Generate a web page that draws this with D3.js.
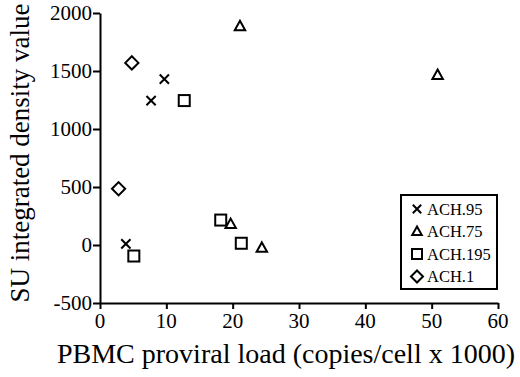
<!DOCTYPE html>
<html>
<head>
<meta charset="utf-8">
<script src="https://cdn.jsdelivr.net/npm/d3@7"></script>
<style>
  body { margin: 0; background: #fff; }
  text { font-family: "Liberation Serif", "Times New Roman", serif; fill: #000; }
</style>
</head>
<body>
<div id="chart"></div>
<script>
// series names and symbol kinds
const seriesNames = ['ACH.95', 'ACH.75', 'ACH.195', 'ACH.1'];
const seriesSymbols = ['cross', 'triangle', 'square', 'diamond'];

// points per series: [proviral load, SU density]
const ach95 = [[3.9, 10], [7.7, 1245], [9.7, 1430]];
const ach75 = [[21.1, 1885], [50.9, 1465], [19.7, 180], [24.4, -25]];
const ach195 = [[12.7, 1245], [18.2, 215], [21.3, 15], [5.1, -95]];
const ach1 = [[4.8, 1570], [2.8, 485]];

const xTicks = [0, 10, 20, 30, 40, 50, 60];
const yTicks = [-500, 0, 500, 1000, 1500, 2000];

const allSeries = [ach95, ach75, ach195, ach1];

const width = 520, height = 377;
const margin = { top: 13, left: 100, right: 22, bottom: 74 };

const svg = d3.select('#chart')
  .append('svg')
  .attr('width', width)
  .attr('height', height);

const x = d3.scaleLinear()
  .domain([0, 60])
  .range([margin.left, width - margin.right]);

const y = d3.scaleLinear()
  .domain([-500, 2000])
  .range([height - margin.bottom, margin.top]);

// axes: lines from d3, labels written below by hand
const xAxis = svg.append('g')
  .attr('transform', `translate(0, ${y(-500)})`)
  .call(d3.axisBottom(x).tickValues(xTicks).tickFormat('').tickSize(6).tickSizeOuter(0));

const yAxis = svg.append('g')
  .attr('transform', `translate(${x(0)}, 0)`)
  .call(d3.axisLeft(y).tickValues(yTicks).tickFormat('').tickSize(7).tickSizeOuter(0));

[xAxis, yAxis].forEach(a => {
  a.select('.domain').attr('stroke', '#000').attr('stroke-width', 2);
  a.selectAll('.tick line').attr('stroke', '#000').attr('stroke-width', 2);
  a.selectAll('.tick text').remove();
});

svg.append('g').selectAll('text')
  .data(xTicks)
  .join('text')
  .attr('x', d => x(d))
  .attr('y', y(-500) + 25)
  .attr('text-anchor', 'middle')
  .attr('font-family', 'Liberation Serif')
  .attr('font-size', 21)
  .text(d => String(d));

svg.append('g').selectAll('text')
  .data(yTicks)
  .join('text')
  .attr('x', x(0) - 8)
  .attr('y', d => y(d) + 7)
  .attr('text-anchor', 'end')
  .attr('font-family', 'Liberation Serif')
  .attr('font-size', 21)
  .text(d => String(d));

// axis titles
svg.append('text')
  .attr('x', 286)
  .attr('y', 363)
  .attr('text-anchor', 'middle')
  .style('font-size', '28px')
  .text('PBMC proviral load (copies/cell x 1000)');

svg.append('text')
  .attr('transform', `translate(29, 153) rotate(-90)`)
  .attr('text-anchor', 'middle')
  .style('font-size', '27px')
  .text('SU integrated density value');

// symbol drawing
function drawSymbol(g, kind, cx, cy, s) {
  let el;
  if (kind === 'cross') {
    const h = s * 0.42;
    el = g.append('path')
      .attr('d', `M${cx - h},${cy - h}L${cx + h},${cy + h}M${cx - h},${cy + h}L${cx + h},${cy - h}`);
  } else if (kind === 'triangle') {
    const h = s * 0.5;
    el = g.append('path')
      .attr('d', `M${cx},${cy - h}L${cx + h * 0.95},${cy + h * 0.72}L${cx - h * 0.95},${cy + h * 0.72}Z`);
  } else if (kind === 'square') {
    const h = s * 0.5;
    el = g.append('rect')
      .attr('x', cx - h).attr('y', cy - h)
      .attr('width', 2 * h).attr('height', 2 * h);
  } else {
    const h = s * 0.6;
    el = g.append('path')
      .attr('d', `M${cx},${cy - h}L${cx + h},${cy}L${cx},${cy + h}L${cx - h},${cy}Z`);
  }
  el.attr('fill', 'none').attr('stroke', '#000').attr('stroke-width', 2);
}

const marks = svg.append('g');
allSeries.forEach((pts, i) => {
  pts.forEach(p => drawSymbol(marks, seriesSymbols[i], x(p[0]), y(p[1]), 11));
});

// legend
const legend = svg.append('g');
legend.append('rect')
  .attr('x', 401).attr('y', 195)
  .attr('width', 96).attr('height', 94)
  .attr('fill', '#fff')
  .attr('stroke', '#000')
  .attr('stroke-width', 2);

seriesNames.forEach((name, i) => {
  const cy = 209 + i * 22.5;
  drawSymbol(legend, seriesSymbols[i], 417, cy, 10);
  legend.append('text')
    .attr('x', 427)
    .attr('y', cy)
    .attr('dy', '0.35em')
    .style('font-size', '16.5px')
    .text(name);
});
</script>
</body>
</html>
